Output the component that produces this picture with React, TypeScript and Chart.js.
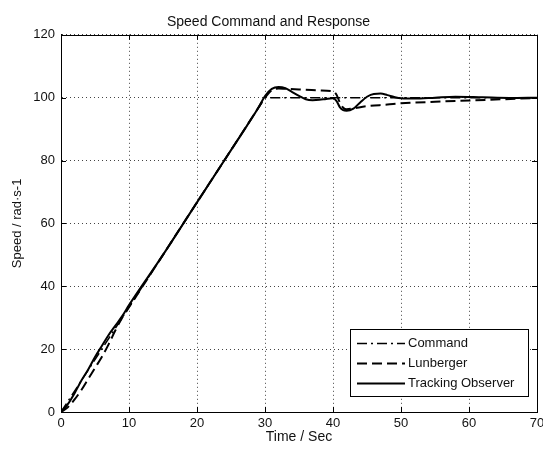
import React, { useEffect, useRef } from "react";
import { Chart, registerables } from "chart.js";

Chart.register(...registerables);

const chartTitle = "Speed Command and Response";
const xAxisTitle = "Time / Sec";
const yAxisTitle = "Speed / rad·s-1";
const seriesNames = ["Command", "Lunberger", "Tracking Observer"];

const commandTime = [0, 30, 70];
const commandSpeed = [0, 100, 100];

const lunbergerTime = [0, 1, 2, 3, 4, 5, 6, 7, 8, 9, 10, 15, 20, 25, 29, 30, 31, 32, 33, 35, 38, 40, 40.5, 41, 41.5, 42, 43, 45, 48, 50, 55, 60, 65, 70];
const lunbergerSpeed = [0, 1.5, 4, 7, 10.5, 14, 17.5, 21.5, 26, 30, 33.3, 50, 66.7, 83.3, 96.7, 100, 102.3, 102.9, 102.8, 102.6, 102.3, 102, 101, 98.5, 96.8, 96.3, 96.6, 97.3, 97.8, 98.2, 98.7, 99.1, 99.5, 99.9];

const trackingTime = [0, 1, 2, 3, 4, 5, 6, 7, 8, 9, 10, 15, 20, 25, 29, 30, 31, 32, 33, 34, 35, 36, 37, 38, 39, 40, 40.5, 41, 41.5, 42, 43, 44, 45, 46, 47, 48, 49, 50, 52, 55, 58, 62, 66, 70];
const trackingSpeed = [0, 2.5, 6, 10, 13.5, 17.5, 21, 24.5, 27.5, 30.5, 34, 50, 66.7, 83.3, 96.7, 100.5, 102.8, 103.4, 103, 101.8, 100.6, 99.5, 99.2, 99.3, 99.6, 99.8, 99, 97, 96, 95.8, 96.5, 98.5, 100.3, 101.2, 101.3, 100.8, 100.2, 99.8, 99.7, 100, 100.3, 100.1, 99.9, 100];

const xMin = 0, xMax = 70, xStep = 10;
const yMin = 0, yMax = 120, yStep = 20;

const FONT = "'Liberation Sans', Arial, Helvetica, sans-serif";

const pairs = (xs: number[], ys: number[]) => xs.map((x, i) => ({ x, y: ys[i] }));

const frameAndTicks = {
  id: "frameAndTicks",
  beforeDatasetsDraw(chart: any) {
    const { ctx, chartArea: a, scales } = chart;
    ctx.save();
    ctx.strokeStyle = "#000";
    ctx.lineWidth = 1;
    ctx.setLineDash([]);
    const len = 5;
    ctx.beginPath();
    scales.x.ticks.forEach((t: any) => {
      const px = Math.round(scales.x.getPixelForValue(t.value)) + 0.5;
      ctx.moveTo(px, a.bottom); ctx.lineTo(px, a.bottom - len);
      ctx.moveTo(px, a.top); ctx.lineTo(px, a.top + len);
    });
    scales.y.ticks.forEach((t: any) => {
      const py = Math.round(scales.y.getPixelForValue(t.value)) + 0.5;
      ctx.moveTo(a.left, py); ctx.lineTo(a.left + len, py);
      ctx.moveTo(a.right, py); ctx.lineTo(a.right - len, py);
    });
    ctx.stroke();
    ctx.restore();
  },
  afterDatasetsDraw(chart: any) {
    const { ctx, chartArea: a } = chart;
    ctx.save();
    ctx.strokeStyle = "#000";
    ctx.lineWidth = 1;
    ctx.setLineDash([]);
    ctx.strokeRect(Math.round(a.left) + 0.5, Math.round(a.top) + 0.5, Math.round(a.right - a.left), Math.round(a.bottom - a.top));
    ctx.restore();
  },
};

const insetLegend = {
  id: "insetLegend",
  afterDraw(chart: any) {
    const { ctx, chartArea: a } = chart;
    const w = 178, h = 67;
    const right = a.right - 9, bottom = a.bottom - 16;
    const left = right - w, top = bottom - h;
    ctx.save();
    ctx.fillStyle = "#fff";
    ctx.fillRect(left, top, w, h);
    ctx.strokeStyle = "#000";
    ctx.lineWidth = 1;
    ctx.setLineDash([]);
    ctx.strokeRect(Math.round(left) + 0.5, Math.round(top) + 0.5, w, h);
    ctx.font = `13px ${FONT}`;
    ctx.textBaseline = "middle";
    ctx.textAlign = "left";
    chart.data.datasets.forEach((ds: any, i: number) => {
      const y = Math.round(top + 14 + i * 20) + 0.5;
      ctx.strokeStyle = ds.borderColor;
      ctx.lineWidth = ds.borderWidth;
      ctx.setLineDash(ds.borderDash || []);
      ctx.beginPath();
      ctx.moveTo(left + 7, y);
      ctx.lineTo(left + 55, y);
      ctx.stroke();
      ctx.setLineDash([]);
      ctx.fillStyle = "#111";
      ctx.fillText(ds.label, left + 58, y);
    });
    ctx.restore();
  },
};

export default function App() {
  const ref = useRef<HTMLCanvasElement | null>(null);
  useEffect(() => {
    if (!ref.current) return;
    const chart = new Chart(ref.current, {
      type: "line",
      data: {
        datasets: [
          {
            label: seriesNames[0],
            data: pairs(commandTime, commandSpeed),
            borderColor: "#000",
            borderWidth: 1.5,
            borderDash: [10, 4, 2, 4],
            pointRadius: 0,
            fill: false,
          },
          {
            label: seriesNames[1],
            data: pairs(lunbergerTime, lunbergerSpeed),
            borderColor: "#000",
            borderWidth: 2,
            borderDash: [10, 5],
            pointRadius: 0,
            fill: false,
            cubicInterpolationMode: "monotone",
          },
          {
            label: seriesNames[2],
            data: pairs(trackingTime, trackingSpeed),
            borderColor: "#000",
            borderWidth: 2,
            pointRadius: 0,
            fill: false,
            cubicInterpolationMode: "monotone",
          },
        ],
      },
      options: {
        animation: false,
        responsive: false,
        maintainAspectRatio: false,
        layout: { padding: { top: 0, right: 6, left: 0, bottom: 0 } },
        plugins: {
          legend: { display: false },
          tooltip: { enabled: false },
          title: {
            display: true,
            text: chartTitle,
            color: "#111",
            font: { family: FONT, size: 14, weight: "normal", lineHeight: 1.2 },
            padding: { top: 14, bottom: 4 },
          },
        },
        scales: {
          x: {
            type: "linear",
            min: xMin,
            max: xMax,
            ticks: { stepSize: xStep, color: "#111", padding: 4, font: { family: FONT, size: 13 }, maxRotation: 0 },
            grid: { color: "#444", lineWidth: 1, drawTicks: false },
            border: { display: true, color: "#000", width: 1, dash: [1, 3] },
            title: { display: true, text: xAxisTitle, color: "#111", font: { family: FONT, size: 14 }, padding: { top: 0, bottom: 5 } },
            afterFit: (s: any) => { s.height = 39; s.paddingLeft = 0; s.paddingRight = 0; },
          },
          y: {
            type: "linear",
            min: yMin,
            max: yMax,
            ticks: { stepSize: yStep, color: "#111", padding: 6, font: { family: FONT, size: 13 } },
            grid: { color: "#444", lineWidth: 1, drawTicks: false },
            border: { display: true, color: "#000", width: 1, dash: [1, 3] },
            title: { display: true, text: yAxisTitle, color: "#111", font: { family: FONT, size: 13 }, padding: { top: 10, bottom: 0 } },
            afterFit: (s: any) => { s.width = 61; s.paddingTop = 0; s.paddingBottom = 0; },
          },
        },
      },
      plugins: [frameAndTicks, insetLegend],
    } as any);
    return () => chart.destroy();
  }, []);
  return (
    <div style={{ position: "fixed", left: 0, top: 0, width: 543, height: 451, background: "#fff" }}>
      <canvas ref={ref} width={543} height={451} style={{ display: "block" }} />
    </div>
  );
}
